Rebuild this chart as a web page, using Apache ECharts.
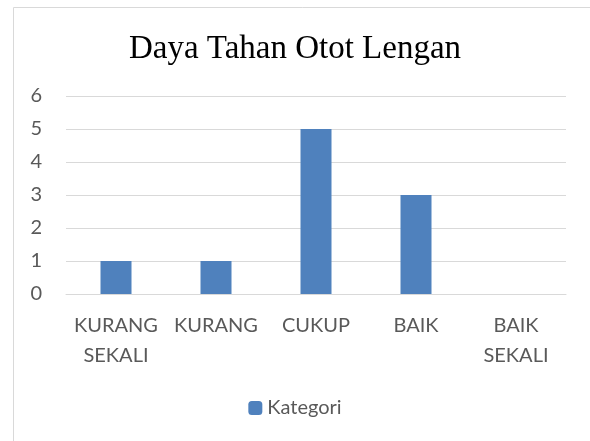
<!DOCTYPE html>
<html>
<head>
<meta charset="utf-8">
<script src="https://cdn.jsdelivr.net/npm/echarts@6/dist/echarts.min.js"></script>
<style>
  html, body { margin: 0; padding: 0; background: #fff; }
  #chart { width: 590px; height: 441px; }
</style>
</head>
<body>
<div id="chart"></div>
<script>
// data
const categories = ['KURANG SEKALI', 'KURANG', 'CUKUP', 'BAIK', 'BAIK SEKALI'];
const kategori = [1, 1, 5, 3, 0];
const yTicks = { min: 0, max: 6, interval: 1 };

function initChart() {
    const chartDom = document.getElementById('chart');
    const chart = echarts.init(chartDom);

    const option = {
        animation: false,
        graphic: [{
            type: 'rect',
            shape: { x: 13.5, y: 7.5, width: 600, height: 460 },
            style: { fill: 'none', stroke: '#d9d9d9', lineWidth: 1 }
        }],
        title: {
            text: 'Daya Tahan Otot Lengan',
            left: 'center',
            top: 28,
            textStyle: {
                fontFamily: 'Liberation Serif',
                fontWeight: 'normal',
                fontSize: 33,
                color: '#000'
            }
        },
        legend: {
            data: ['Kategori'],
            bottom: 18,
            left: 'center',
            itemWidth: 14,
            itemHeight: 14,
            itemGap: 5,
            textStyle: { fontFamily: 'Lato', fontSize: 20, color: '#595959' }
        },
        grid: { left: 66, right: 24, top: 96, bottom: 147 },
        xAxis: {
            type: 'category',
            data: categories,
            axisLine: { lineStyle: { color: '#d9d9d9', width: 1 } },
            axisTick: { show: false },
            axisLabel: {
                interval: 0,
                margin: 17,
                lineHeight: 30,
                fontFamily: 'Lato',
                fontSize: 20,
                color: '#595959',
                formatter: v => v.replace(' ', '\n')
            }
        },
        yAxis: {
            type: 'value',
            min: yTicks.min,
            max: yTicks.max,
            interval: yTicks.interval,
            axisLine: { show: false },
            axisTick: { show: false },
            splitLine: { lineStyle: { color: '#d9d9d9', width: 1 } },
            axisLabel: {
                margin: 24,
                fontFamily: 'Lato',
                fontSize: 20,
                color: '#595959'
            }
        },
        series: [{
            name: 'Kategori',
            type: 'bar',
            data: kategori,
            barWidth: 31,
            itemStyle: { color: '#4F81BD' }
        }]
    };

    chart.setOption(option);
}

document.addEventListener('DOMContentLoaded', initChart);
</script>
</body>
</html>
